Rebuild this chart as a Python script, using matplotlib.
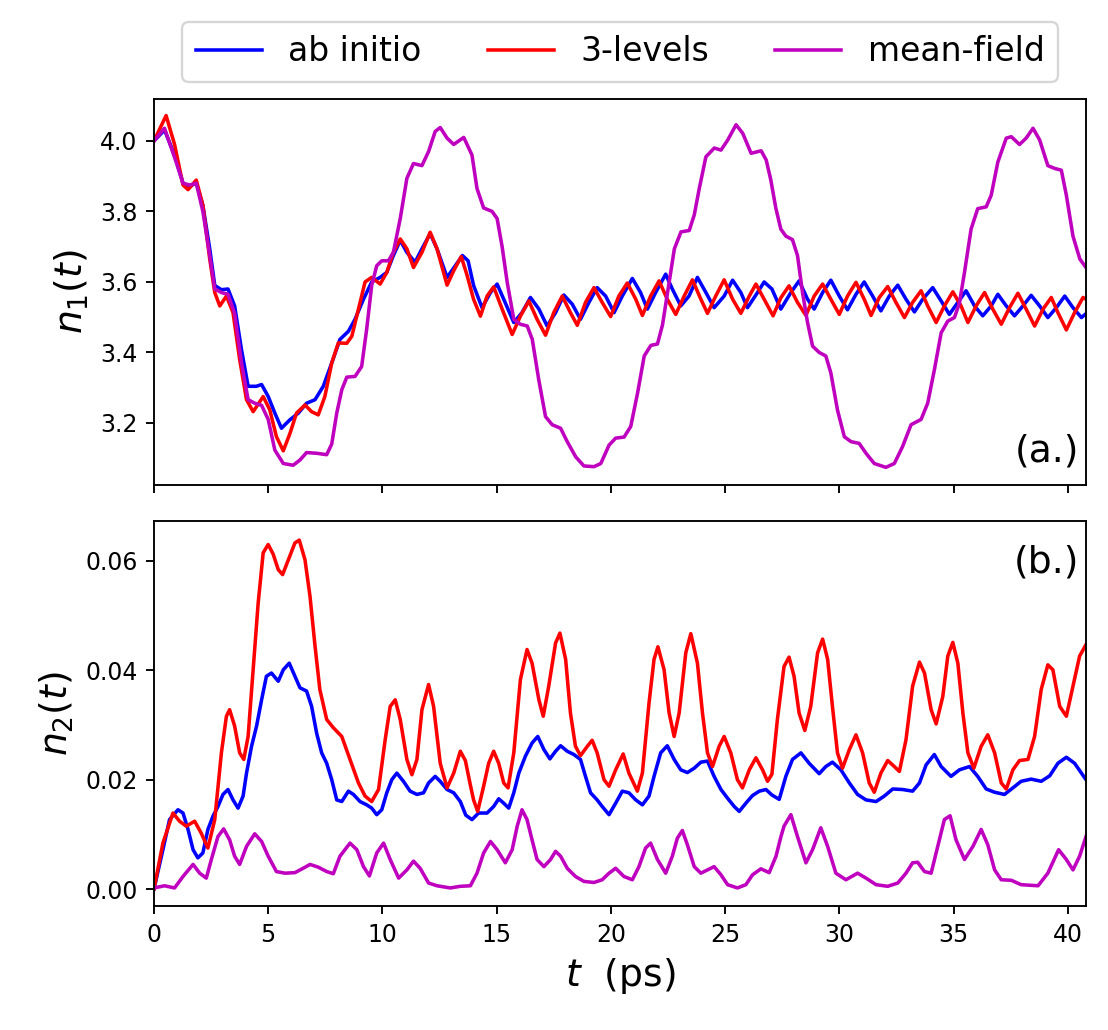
import matplotlib
matplotlib.use("Agg")
import matplotlib.pyplot as plt

# ---------------- panel (a): n1(t) ----------------
t_a_abinitio = [0, 0.46, 0.9, 1.27, 1.56, 1.85, 2.14, 2.44, 2.66, 2.95, 3.24, 3.53, 3.83, 4.12, 4.48, 4.71,
                5.0, 5.29, 5.58, 5.95, 6.32, 6.68, 7.05, 7.41, 7.78, 8.14, 8.51, 8.80, 9.17, 9.53, 9.90,
                10.19, 10.48, 10.78, 11.07, 11.43, 11.73, 12.09, 12.39, 12.83, 13.19, 13.5, 13.75, 13.99,
                14.36, 14.73, 15.02, 15.31, 15.75, 16.11, 16.48, 16.85, 17.21, 17.58, 17.94, 18.31, 18.67,
                19.04, 19.40, 19.77, 20.14, 20.50, 20.94, 21.3, 21.6, 21.96, 22.4, 22.69, 23.06, 23.42,
                23.79, 24.16, 24.52, 24.96, 25.33, 25.69, 25.98, 26.42, 26.71, 27.05, 27.44, 27.88, 28.24,
                28.61, 28.9, 29.27, 29.63, 30.0, 30.36, 30.73, 31.09, 31.46, 31.82, 32.19, 32.56, 32.92,
                33.29, 33.65, 34.09, 34.46, 34.82, 35.19, 35.55, 35.92, 36.28, 36.65, 36.94, 37.31, 37.67,
                38.04, 38.40, 38.77, 39.13, 39.5, 39.87, 40.23, 40.6, 40.8]
n1_abinitio = [4.0, 4.031, 3.96, 3.88, 3.87, 3.882, 3.817, 3.694, 3.59, 3.578, 3.58, 3.532, 3.408, 3.304, 3.304, 3.309,
               3.275, 3.228, 3.185, 3.209, 3.228, 3.256, 3.266, 3.304, 3.37, 3.437, 3.46, 3.494, 3.551, 3.60, 3.613,
               3.627, 3.675, 3.718, 3.684, 3.656, 3.694, 3.737, 3.694, 3.613, 3.646, 3.675, 3.66, 3.59,
               3.527, 3.57, 3.594, 3.551, 3.485, 3.513, 3.556, 3.523, 3.475, 3.513, 3.563, 3.537, 3.494,
               3.542, 3.584, 3.56, 3.513, 3.56, 3.61, 3.57, 3.523, 3.57, 3.622, 3.58, 3.532, 3.56,
               3.613, 3.57, 3.527, 3.56, 3.605, 3.57, 3.527, 3.57, 3.60, 3.58, 3.523, 3.57, 3.603,
               3.551, 3.523, 3.57, 3.605, 3.56, 3.521, 3.565, 3.60, 3.56, 3.518, 3.56, 3.591, 3.551,
               3.515, 3.551, 3.584, 3.546, 3.508, 3.542, 3.575, 3.532, 3.504, 3.532, 3.565, 3.532, 3.504,
               3.532, 3.562, 3.532, 3.499, 3.527, 3.56, 3.527, 3.499, 3.51]

t_a_3level = [0, 0.53, 0.9, 1.27, 1.49, 1.85, 2.14, 2.44, 2.66, 2.88, 3.17, 3.46, 3.75, 4.05, 4.34, 4.78,
              5.07, 5.36, 5.66, 5.95, 6.24, 6.61, 6.9, 7.19, 7.48, 7.78, 8.07, 8.44, 8.66, 8.95, 9.24,
              9.53, 9.90, 10.19, 10.48, 10.78, 11.07, 11.36, 11.73, 12.09, 12.39, 12.83, 13.12, 13.45,
              13.7, 13.99, 14.29, 14.58, 14.87, 15.24, 15.68, 16.04, 16.41, 16.77, 17.14, 17.50, 17.87,
              18.23, 18.53, 18.89, 19.26, 19.62, 19.99, 20.35, 20.72, 21.09, 21.38, 21.74, 22.11, 22.47,
              22.84, 23.21, 23.57, 23.94, 24.23, 24.59, 24.96, 25.33, 25.69, 26.06, 26.35, 26.71, 27.1,
              27.44, 27.80, 28.17, 28.54, 28.9, 29.27, 29.63, 30.0, 30.36, 30.73, 31.09, 31.39, 31.75,
              32.12, 32.48, 32.85, 33.21, 33.58, 33.87, 34.24, 34.6, 34.97, 35.33, 35.63, 35.99, 36.36,
              36.72, 37.09, 37.45, 37.82, 38.18, 38.55, 38.92, 39.28, 39.57, 39.94, 40.30, 40.67, 40.8]
n1_3level = [4.0, 4.072, 3.99, 3.875, 3.862, 3.889, 3.817, 3.665, 3.57, 3.532, 3.56, 3.513, 3.38, 3.266, 3.232, 3.275,
             3.237, 3.161, 3.121, 3.17, 3.228, 3.251, 3.232, 3.223, 3.275, 3.37, 3.427, 3.426, 3.446, 3.523, 3.60,
             3.613, 3.594, 3.627, 3.684, 3.722, 3.694, 3.641, 3.684, 3.741, 3.694, 3.591, 3.632, 3.672,
             3.62, 3.551, 3.503, 3.56, 3.586, 3.523, 3.451, 3.503, 3.546, 3.494, 3.449, 3.513, 3.56,
             3.513, 3.477, 3.542, 3.584, 3.542, 3.502, 3.56, 3.597, 3.551, 3.505, 3.56, 3.603, 3.551,
             3.508, 3.56, 3.606, 3.551, 3.511, 3.56, 3.606, 3.551, 3.511, 3.56, 3.594, 3.551, 3.504,
             3.555, 3.589, 3.542, 3.505, 3.56, 3.594, 3.551, 3.508, 3.56, 3.599, 3.551, 3.505, 3.556,
             3.587, 3.542, 3.499, 3.542, 3.575, 3.532, 3.485, 3.532, 3.572, 3.532, 3.485, 3.532, 3.57,
             3.523, 3.48, 3.527, 3.568, 3.523, 3.475, 3.523, 3.556, 3.513, 3.464, 3.513, 3.556, 3.551]

t_a_meanfield = [0, 0.46, 0.97, 1.27, 1.56, 1.85, 2.14, 2.44, 2.66, 2.95, 3.24, 3.53, 3.83, 4.12, 4.41, 4.71,
                 5.0, 5.29, 5.66, 6.09, 6.39, 6.68, 7.12, 7.56, 7.78, 8.0, 8.22, 8.44, 8.8, 9.09, 9.31,
                 9.53, 9.75, 9.97, 10.26, 10.48, 10.78, 11.07, 11.36, 11.73, 12.02, 12.31, 12.53, 12.83,
                 13.12, 13.56, 13.92, 14.14, 14.43, 14.80, 15.02, 15.24, 15.46, 15.75, 16.04, 16.34, 16.56,
                 16.85, 17.14, 17.43, 17.8, 18.09, 18.46, 18.82, 19.26, 19.56, 19.92, 20.21, 20.58, 20.87,
                 21.17, 21.46, 21.75, 22.04, 22.26, 22.48, 22.78, 23.07, 23.43, 23.65, 23.87, 24.16, 24.53,
                 24.82, 25.12, 25.48, 25.77, 26.14, 26.58, 26.80, 27.0, 27.22, 27.44, 27.66, 27.95, 28.17,
                 28.39, 28.61, 28.83, 29.12, 29.41, 29.63, 29.92, 30.22, 30.51, 30.87, 31.17, 31.53, 32.04,
                 32.41, 32.77, 33.14, 33.58, 33.87, 34.16, 34.46, 34.75, 35.04, 35.26, 35.48, 35.77, 36.06,
                 36.43, 36.65, 36.94, 37.31, 37.53, 37.89, 38.18, 38.48, 38.77, 39.13, 39.43, 39.72, 39.94,
                 40.23, 40.53, 40.8]
n1_meanfield = [4.0, 4.036, 3.94, 3.88, 3.875, 3.88, 3.80, 3.675, 3.58, 3.57, 3.565, 3.51, 3.37, 3.266, 3.256, 3.25,
                3.21, 3.123, 3.085, 3.08, 3.095, 3.116, 3.114, 3.11, 3.14, 3.228, 3.294, 3.33, 3.332, 3.36, 3.466,
                3.59, 3.646, 3.66, 3.66, 3.684, 3.78, 3.894, 3.936, 3.93, 3.97, 4.027, 4.038, 4.008,
                3.99, 4.01, 3.96, 3.865, 3.81, 3.80, 3.78, 3.70, 3.60, 3.494, 3.48, 3.475, 3.437,
                3.32, 3.218, 3.195, 3.185, 3.147, 3.104, 3.078, 3.076, 3.085, 3.137, 3.157, 3.16, 3.19,
                3.285, 3.39, 3.42, 3.424, 3.478, 3.57, 3.694, 3.742, 3.746, 3.79, 3.865, 3.955, 3.98,
                3.974, 4.003, 4.046, 4.022, 3.965, 3.972, 3.946, 3.89, 3.81, 3.75, 3.73, 3.72, 3.675,
                3.57, 3.485, 3.418, 3.40, 3.39, 3.342, 3.237, 3.161, 3.147, 3.142, 3.114, 3.085, 3.074,
                3.085, 3.133, 3.195, 3.21, 3.256, 3.35, 3.456, 3.489, 3.499, 3.54, 3.627, 3.75, 3.808,
                3.813, 3.846, 3.94, 4.008, 4.012, 3.99, 4.008, 4.036, 4.003, 3.93, 3.922, 3.917, 3.846,
                3.73, 3.665, 3.641]

# ---------------- panel (b): n2(t) ----------------
t_b_abinitio = [0, 0.39, 0.68, 1.05, 1.27, 1.49, 1.71, 1.92, 2.14, 2.36, 2.58, 2.8, 3.02, 3.24, 3.46, 3.68,
                3.9, 4.05, 4.27, 4.49, 4.71, 4.92, 5.14, 5.44, 5.66, 5.92, 6.17, 6.39, 6.68, 6.9, 7.12,
                7.34, 7.56, 7.78, 8.0, 8.22, 8.51, 8.73, 9.02, 9.31, 9.53, 9.75, 9.97, 10.19, 10.41,
                10.63, 10.92, 11.21, 11.51, 11.8, 12.02, 12.31, 12.53, 12.83, 13.12, 13.41, 13.65, 13.92,
                14.21, 14.58, 14.87, 15.09, 15.31, 15.53, 15.75, 15.97, 16.26, 16.55, 16.8, 17.07, 17.33,
                17.58, 17.8, 18.09, 18.38, 18.67, 18.89, 19.11, 19.40, 19.62, 19.92, 20.21, 20.5, 20.79,
                21.09, 21.38, 21.67, 21.89, 22.18, 22.47, 22.77, 23.06, 23.35, 23.65, 23.94, 24.23, 24.52,
                24.82, 25.11, 25.4, 25.62, 25.91, 26.2, 26.5, 26.79, 27.05, 27.37, 27.66, 27.95, 28.32,
                28.68, 29.12, 29.41, 29.7, 30.07, 30.44, 30.8, 31.17, 31.61, 31.97, 32.34, 32.77, 33.21,
                33.51, 33.8, 34.16, 34.46, 34.89, 35.26, 35.7, 36.06, 36.43, 36.8, 37.23, 37.6, 37.96,
                38.4, 38.84, 39.21, 39.57, 39.94, 40.3, 40.8]
n2_abinitio = [0.0, 0.0072, 0.0127, 0.0145, 0.0139, 0.0109, 0.0072, 0.0057, 0.0066, 0.0109, 0.0133, 0.0151, 0.0173, 0.0182, 0.0163, 0.0148,
               0.017, 0.0212, 0.0261, 0.0298, 0.0346, 0.0389, 0.0395, 0.038, 0.0401, 0.0413, 0.0389, 0.0368, 0.0362, 0.0334, 0.0285,
               0.0249, 0.023, 0.02, 0.0163, 0.016, 0.0179, 0.0173, 0.016, 0.0154, 0.0148, 0.0136, 0.0145, 0.0176, 0.02,
               0.0212, 0.0197, 0.0179, 0.0173, 0.0176, 0.0194, 0.0206, 0.0197, 0.0182, 0.0176, 0.016, 0.0135, 0.0127,
               0.0139, 0.0139, 0.0151, 0.0165, 0.0157, 0.0148, 0.0176, 0.0212, 0.0243, 0.0267, 0.0279, 0.0255, 0.0238,
               0.0252, 0.0262, 0.0252, 0.0246, 0.0237, 0.0206, 0.0176, 0.0163, 0.0151, 0.0136, 0.0157, 0.0179, 0.0176,
               0.0163, 0.0154, 0.017, 0.0206, 0.0249, 0.0262, 0.0237, 0.0218, 0.0213, 0.0221, 0.0232, 0.0234, 0.0206,
               0.0182, 0.0166, 0.0151, 0.0142, 0.0157, 0.0171, 0.0179, 0.0182, 0.0172, 0.0164, 0.0206, 0.0237, 0.0249,
               0.023, 0.0211, 0.0224, 0.0232, 0.0218, 0.0194, 0.0173, 0.0163, 0.016, 0.017, 0.0183, 0.0182, 0.0179,
               0.0194, 0.0227, 0.0246, 0.0224, 0.0206, 0.0218, 0.0224, 0.0206, 0.0183, 0.0177, 0.0173, 0.0185, 0.0197,
               0.0201, 0.0197, 0.0207, 0.023, 0.0241, 0.023, 0.02]

t_b_3level = [0, 0.39, 0.83, 1.12, 1.41, 1.78, 2.07, 2.36, 2.66, 2.95, 3.17, 3.31, 3.53, 3.75, 3.93, 4.12,
              4.34, 4.56, 4.78, 5.0, 5.22, 5.44, 5.63, 5.88, 6.17, 6.36, 6.61, 6.83, 7.05, 7.26, 7.56,
              7.85, 8.22, 8.58, 8.95, 9.24, 9.53, 9.83, 10.12, 10.34, 10.56, 10.78, 11.07, 11.29, 11.51,
              11.73, 12.02, 12.24, 12.53, 12.83, 13.12, 13.41, 13.63, 13.85, 13.99, 14.17, 14.43, 14.65,
              14.87, 15.09, 15.31, 15.5, 15.75, 16.04, 16.33, 16.55, 16.85, 17.04, 17.28, 17.58, 17.77,
              18.02, 18.23, 18.45, 18.67, 18.97, 19.18, 19.40, 19.70, 19.92, 20.21, 20.54, 20.79, 21.16,
              21.38, 21.67, 21.89, 22.06, 22.33, 22.55, 22.77, 22.99, 23.28, 23.5, 23.79, 24.01, 24.23,
              24.45, 24.74, 24.96, 25.25, 25.54, 25.76, 26.06, 26.35, 26.64, 26.86, 27.05, 27.29, 27.58,
              27.8, 28.02, 28.24, 28.49, 28.75, 29.05, 29.27, 29.49, 29.7, 29.92, 30.14, 30.44, 30.73,
              31.02, 31.31, 31.53, 31.82, 32.12, 32.41, 32.63, 32.92, 33.21, 33.51, 33.73, 34.02, 34.24,
              34.53, 34.75, 34.97, 35.19, 35.41, 35.63, 35.89, 36.21, 36.5, 36.8, 37.09, 37.31, 37.6,
              37.89, 38.26, 38.55, 38.84, 39.13, 39.35, 39.65, 39.94, 40.23, 40.52, 40.8]
n2_3level = [0.0, 0.0084, 0.0139, 0.0124, 0.0115, 0.0124, 0.0102, 0.0075, 0.0127, 0.0249, 0.0316, 0.0328, 0.0298, 0.0249, 0.0237, 0.0279,
             0.0401, 0.0523, 0.0615, 0.063, 0.0612, 0.0584, 0.0575, 0.0602, 0.0633, 0.0638, 0.0602, 0.0535, 0.0444, 0.0365, 0.031,
             0.0295, 0.0279, 0.0237, 0.0194, 0.017, 0.016, 0.0182, 0.0273, 0.0334, 0.0346, 0.031, 0.0237, 0.0209, 0.0237,
             0.0328, 0.0374, 0.0334, 0.023, 0.0185, 0.0212, 0.0252, 0.0235, 0.019, 0.0163, 0.0142, 0.0188, 0.023,
             0.0252, 0.023, 0.0194, 0.0185, 0.0249, 0.0383, 0.0438, 0.0413, 0.0346, 0.0316, 0.0371, 0.045, 0.0468,
             0.042, 0.0322, 0.0261, 0.0244, 0.0261, 0.0272, 0.0249, 0.02, 0.0188, 0.0218, 0.0247, 0.0212, 0.0179,
             0.0212, 0.034, 0.042, 0.0443, 0.0401, 0.0322, 0.0279, 0.0322, 0.0432, 0.0467, 0.0413, 0.0322, 0.0249,
             0.0224, 0.0261, 0.0279, 0.0249, 0.02, 0.0185, 0.0218, 0.024, 0.0218, 0.0197, 0.021, 0.031, 0.0407,
             0.0424, 0.0389, 0.0322, 0.029, 0.0334, 0.0432, 0.0457, 0.042, 0.0334, 0.0249, 0.0221, 0.0255, 0.0282,
             0.0249, 0.0194, 0.0177, 0.0212, 0.0235, 0.0224, 0.0215, 0.0273, 0.0371, 0.0415, 0.0395, 0.0328, 0.0302,
             0.0352, 0.0426, 0.0451, 0.0413, 0.0322, 0.0249, 0.0221, 0.0261, 0.0282, 0.0249, 0.0194, 0.0183, 0.0218,
             0.0235, 0.0237, 0.0279, 0.0365, 0.041, 0.0401, 0.0334, 0.0316, 0.0371, 0.0426, 0.0447]

t_b_meanfield = [0, 0.46, 0.9, 1.27, 1.71, 2.0, 2.29, 2.51, 2.80, 3.05, 3.31, 3.53, 3.75, 4.05, 4.41, 4.71,
                 5.0, 5.36, 5.73, 6.17, 6.53, 6.83, 7.19, 7.56, 7.85, 8.14, 8.58, 8.88, 9.17, 9.43, 9.75,
                 10.05, 10.34, 10.71, 11.07, 11.36, 11.65, 12.02, 12.39, 12.97, 13.41, 13.85, 14.14, 14.43,
                 14.73, 15.02, 15.38, 15.68, 15.9, 16.11, 16.33, 16.55, 16.77, 17.07, 17.36, 17.58, 17.8,
                 18.09, 18.45, 18.82, 19.26, 19.62, 19.92, 20.21, 20.57, 20.94, 21.23, 21.52, 21.74, 22.04,
                 22.4, 22.69, 22.91, 23.13, 23.35, 23.65, 23.94, 24.23, 24.52, 24.82, 25.11, 25.54, 25.91,
                 26.2, 26.57, 26.93, 27.23, 27.44, 27.58, 27.88, 28.17, 28.54, 28.83, 29.19, 29.49, 29.85,
                 30.29, 30.8, 31.17, 31.61, 32.12, 32.56, 32.92, 33.21, 33.43, 33.73, 34.02, 34.31, 34.6,
                 34.85, 35.11, 35.48, 35.85, 36.21, 36.5, 36.8, 37.09, 37.53, 37.96, 38.7, 39.13, 39.6,
                 39.94, 40.23, 40.52, 40.8]
n2_meanfield = [0.0002, 0.0006, 0.0002, 0.0023, 0.0045, 0.0029, 0.002, 0.0054, 0.0096, 0.011, 0.009, 0.006, 0.0045, 0.0078, 0.0101, 0.0087,
                0.006, 0.0032, 0.0029, 0.003, 0.0038, 0.0045, 0.004, 0.0032, 0.0028, 0.006, 0.0084, 0.0072, 0.0041, 0.0024, 0.0066,
                0.0084, 0.0054, 0.002, 0.0035, 0.0051, 0.0038, 0.0011, 0.0006, 0.0002, 0.0005, 0.0006, 0.0029, 0.0066,
                0.0087, 0.0072, 0.0048, 0.0072, 0.0115, 0.0145, 0.0127, 0.009, 0.0054, 0.0041, 0.0054, 0.0069, 0.006,
                0.0038, 0.0023, 0.0014, 0.0012, 0.0017, 0.0029, 0.0038, 0.0023, 0.0017, 0.0041, 0.0075, 0.0084, 0.0054,
                0.0029, 0.006, 0.0093, 0.0107, 0.0081, 0.0041, 0.0029, 0.0035, 0.0041, 0.0026, 0.0008, 0.0002, 0.0008,
                0.0026, 0.0037, 0.003, 0.006, 0.0095, 0.0115, 0.0136, 0.0096, 0.0048, 0.0072, 0.0112, 0.0078, 0.0029,
                0.0017, 0.0029, 0.002, 0.0008, 0.0005, 0.0011, 0.0029, 0.0048, 0.0049, 0.0032, 0.0029, 0.0078, 0.0127,
                0.0134, 0.009, 0.0054, 0.0078, 0.0109, 0.0081, 0.0035, 0.0017, 0.0016, 0.0008, 0.0006, 0.0029, 0.0072,
                0.0054, 0.0035, 0.006, 0.0096]

labels = ["ab initio", "3-levels", "mean-field"]
colors = ["b", "r", "m"]

fig = plt.figure(figsize=(1108 / 170, 1030 / 170), dpi=170)
ax1 = fig.add_axes([154 / 1108, 1 - 485 / 1030, 932 / 1108, 386 / 1030])
ax2 = fig.add_axes([154 / 1108, 1 - 906 / 1030, 932 / 1108, 385 / 1030], sharex=ax1)

ax1.plot(t_a_abinitio, n1_abinitio, color=colors[0], lw=1.5, label=labels[0])
ax1.plot(t_a_3level, n1_3level, color=colors[1], lw=1.5, label=labels[1])
ax1.plot(t_a_meanfield, n1_meanfield, color=colors[2], lw=1.5, label=labels[2])

ax2.plot(t_b_abinitio, n2_abinitio, color=colors[0], lw=1.5)
ax2.plot(t_b_3level, n2_3level, color=colors[1], lw=1.5)
ax2.plot(t_b_meanfield, n2_meanfield, color=colors[2], lw=1.5)

ax1.set_xlim(0, 40.8)
ax1.set_ylim(3.024, 4.119)
ax2.set_ylim(-0.0031, 0.0673)
ax1.set_yticks([3.2, 3.4, 3.6, 3.8, 4.0])
ax2.set_yticks([0.00, 0.02, 0.04, 0.06])
ax2.set_xticks([0, 5, 10, 15, 20, 25, 30, 35, 40])
plt.setp(ax1.get_xticklabels(), visible=False)

for ax in (ax1, ax2):
    ax.tick_params(labelsize=10)

ax1.set_ylabel(r"$n_1(t)$", fontsize=16)
ax2.set_ylabel(r"$n_2(t)$", fontsize=16)
ax2.set_xlabel(r"$t$  (ps)", fontsize=16)

ax1.text(0.993, 0.04, "(a.)", transform=ax1.transAxes, ha="right", va="bottom", fontsize=16)
ax2.text(0.993, 0.94, "(b.)", transform=ax2.transAxes, ha="right", va="top", fontsize=16)

ax1.legend(loc="lower center", bbox_to_anchor=(0.5, 1.045), ncol=3, fontsize=14,
           borderaxespad=0, columnspacing=2.0)

fig.savefig("out.png", dpi=170)
